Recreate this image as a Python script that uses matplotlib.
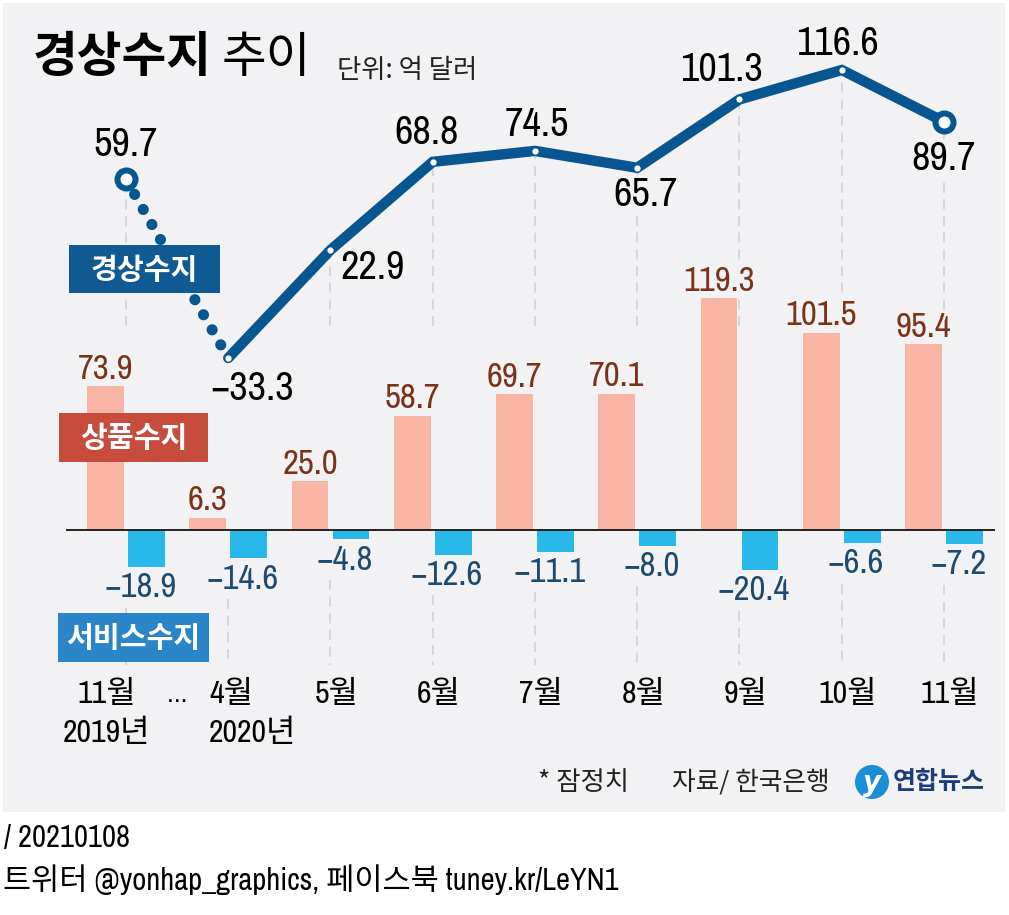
import numpy as np
import matplotlib
matplotlib.use('Agg')
import matplotlib.pyplot as plt
from matplotlib.patches import Rectangle, Ellipse

plt.rcParams['font.family'] = ['Archivo Narrow', 'Liberation Sans Narrow', 'Noto Sans CJK KR', 'DejaVu Sans']

# data (억 달러)
months = ['11월', '4월', '5월', '6월', '7월', '8월', '9월', '10월', '11월']
current = [59.7, -33.3, 22.9, 68.8, 74.5, 65.7, 101.3, 116.6, 89.7]
goods = [73.9, 6.3, 25.0, 58.7, 69.7, 70.1, 119.3, 101.5, 95.4]
services = [-18.9, -14.6, -4.8, -12.6, -11.1, -8.0, -20.4, -6.6, -7.2]

W, H = 1009, 915
def fx(x): return x / W
def fy(y): return 1 - y / H

bg = '#f2f2f4'
line_c = '#07568f'
pink = '#f9b5a4'
cyan = '#29b8ea'
goods_txt = '#7a3219'
serv_txt = '#1f4a70'

fig = plt.figure(figsize=(W / 100, H / 100), dpi=100)
fig.add_artist(Rectangle((fx(3), fy(812)), fx(1005) - fx(3), fy(3) - fy(812),
                         transform=fig.transFigure, facecolor=bg, edgecolor='none', zorder=-1))

x0, step = 126, 102.25
xs = np.arange(len(months))

ax = fig.add_axes([0, 0, 1, 1])
ax2 = ax.twinx()
ax.set_zorder(2)
ax2.set_zorder(1)
ax.patch.set_visible(False)
ax2.patch.set_visible(False)
ax.set_xlim(-x0 / step, (W - x0) / step)
ax.set_ylim(-(H - 530) / 1.945, 530 / 1.945)
ax2.set_ylim(-(H - 294) / 1.921, 294 / 1.921)
ax.axis('off')
ax2.axis('off')

dash = dict(color='#d2d2d6', lw=1.2, linestyle=(0, (6, 4)))

# bars
bw = 0.36
ax.bar(xs - 0.2, goods, bw, color=pink, zorder=2)
ax.bar(xs + 0.2, services, bw, color=cyan, zorder=2)
ax.hlines(0, -0.59, 8.5, color='#222222', lw=1.4, zorder=3)

for i, v in enumerate(goods):
    ax.annotate(f'{v:.1f}', (xs[i] - 0.2, v), xytext=(0, 1), textcoords='offset points',
                ha='center', va='bottom', fontsize=25, color=goods_txt, zorder=4,
                bbox=dict(facecolor=bg, edgecolor='none', pad=0.5))
for i, v in enumerate(services):
    ax.annotate(f'\u2212{abs(v):.1f}', (xs[i] + 0.14, v), xytext=(0, -3), textcoords='offset points',
                ha='center', va='top', fontsize=25, color=serv_txt, zorder=4)
    ax.vlines(xs[i], v - 21, -69.4, zorder=1, **dash)

# current account line
for i, v in enumerate(current):
    if v > -16.7:
        ax2.vlines(xs[i], -16.7, v, zorder=1, **dash)
ax2.plot(xs[:2], current[:2], color=line_c, lw=8, linestyle=(0, (0.01, 1.55)),
         dash_capstyle='round', zorder=3)
ax2.plot(xs[1:], current[1:], color=line_c, lw=7.5, solid_capstyle='round',
         solid_joinstyle='miter', zorder=3)
ax2.plot(xs[1:-1], current[1:-1], 'o', ms=4.5, mfc='white', mec='none', zorder=4)
ax2.plot(xs[[0, -1]], [current[0], current[-1]], 'o', ms=13, mfc='white', mec=line_c,
         mew=4.3, zorder=4)

offs = [(0, 35), (24, -31), (42, -17), (-6, 29), (2, 26), (8, -27), (-18, 30), (-4, 27), (0, -37)]
for i, v in enumerate(current):
    dx, dy = offs[i]
    ax2.annotate(f'\u2212{abs(v):.1f}' if v < 0 else f'{v:.1f}', (xs[i], v),
                 xytext=(dx * 0.72, dy * 0.72), textcoords='offset points',
                 ha='center', va='center', fontsize=29, fontweight='medium', color='black', zorder=2,
                 bbox=dict(facecolor=bg, edgecolor='none', pad=0.5))

# x labels
xt = ax.get_xaxis_transform()
ax.text(-0.19, fy(694), months[0], transform=xt, ha='center', va='center', fontsize=23)
ax.text(-0.19, fy(733), '2019년', transform=xt, ha='center', va='center', fontsize=23)
ax.text(0.5, fy(694), '…', transform=xt, ha='center', va='center', fontsize=18)
ax.text(1 - 0.186, fy(694), months[1], transform=xt, ha='left', va='center', fontsize=23)
ax.text(1 - 0.186, fy(733), '2020년', transform=xt, ha='left', va='center', fontsize=23)
for i in range(2, len(months)):
    ax.text(xs[i] + 0.06, fy(694), months[i], transform=xt, ha='center', va='center', fontsize=23)

# legend boxes
boxes = [('경상수지', 69, 245, 220, 293, '#105a93'),
         ('상품수지', 59, 413, 208, 462, '#c64c3e'),
         ('서비스수지', 58, 613, 209, 662, '#2a86c8')]
for label, l, t, r, b, c in boxes:
    fig.add_artist(Rectangle((fx(l), fy(b)), fx(r) - fx(l), fy(t) - fy(b),
                             transform=fig.transFigure, facecolor=c, edgecolor='none', zorder=5))
    fig.text(fx((l + r) / 2), fy((t + b) / 2 + 1), label, ha='center', va='center',
             fontsize=21, fontweight='bold', color='white', family='Noto Sans CJK KR', zorder=6)

# title
fig.text(fx(33), fy(58), '경상수지', ha='left', va='center', fontsize=35, fontweight='bold',
         family='Noto Sans CJK KR')
fig.text(fx(222), fy(58), '추이', ha='left', va='center', fontsize=35, family='Noto Sans CJK KR')
fig.text(fx(337), fy(70), '단위: 억 달러', ha='left', va='center', fontsize=19,
         family='Noto Sans CJK KR', color='#222222')

# source / notes
fig.text(fx(538), fy(782), '* 잠정치', ha='left', va='center', fontsize=19, color='#222222',
         family='Noto Sans CJK KR')
fig.text(fx(672), fy(782), '자료/ 한국은행', ha='left', va='center', fontsize=18.5, color='#222222',
         family='Noto Sans CJK KR')
fig.add_artist(Ellipse((fx(872), fy(782)), 34 / W, 34 / H, transform=fig.transFigure,
                       facecolor='#1a8fd6', edgecolor='none', zorder=5))
fig.text(fx(872), fy(783), 'y', ha='center', va='center', fontsize=20, color='white',
         fontweight='bold', style='italic', family='DejaVu Sans', zorder=6)
fig.text(fx(893), fy(782), '연합뉴스', ha='left', va='center', fontsize=18, fontweight='bold',
         color='#1d3c7a', family='Noto Sans CJK KR')

# footer
fig.text(fx(4), fy(838), '/ 20210108', ha='left', va='center', fontsize=22)
fig.text(fx(3), fy(880), '트위터 @yonhap_graphics, 페이스북 tuney.kr/LeYN1', ha='left',
         va='center', fontsize=22)

fig.savefig('out.png', dpi=100)
